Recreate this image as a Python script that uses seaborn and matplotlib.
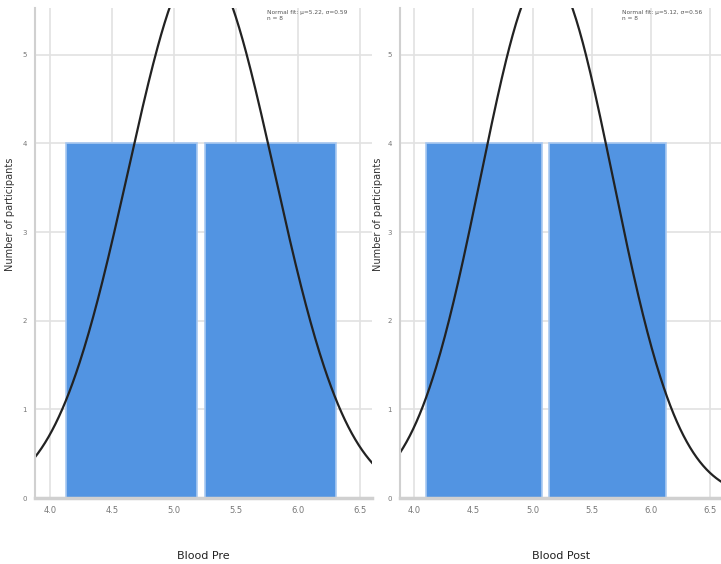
import numpy as np
import pandas as pd
import matplotlib as PlotLib
PlotLib.use('Agg')
import matplotlib.pyplot as PyPlot
import seaborn as sns

# histogram bins and counts
pre_edges = [4.095, 5.2175, 6.34]
pre_counts = [4, 4]
post_edges = [4.066, 5.112, 6.158]
post_counts = [4, 4]

# fitted normal curves
pre_mean, pre_sd = 5.22, 0.59
post_mean, post_sd = 5.12, 0.56

xticks = [4.0, 4.5, 5.0, 5.5, 6.0, 6.5]
yticks = [0, 1, 2, 3, 4, 5]
xlabels = ["Blood Pre", "Blood Post"]
ylabel = "Number of participants"

sns.set_theme(style="whitegrid")
PyPlot.rcParams['font.family'] = ['DejaVu Sans']

bar_color = '#5294e2'
fig = PyPlot.figure(figsize=(7.21, 5.64), dpi=100)
ax1 = fig.add_axes([0.0485, 0.117, 0.467, 0.869])
ax2 = fig.add_axes([0.555, 0.117, 0.445, 0.869])

panels = [(ax1, pre_edges, pre_counts, pre_mean, pre_sd, xlabels[0]),
          (ax2, post_edges, post_counts, post_mean, post_sd, xlabels[1])]

for ax, edges, counts, mu, sd, xl in panels:
    edges = np.array(edges)
    centers = (edges[:-1] + edges[1:]) / 2
    width = edges[1] - edges[0]
    df = pd.DataFrame({"x": centers, "n": counts})
    sns.histplot(data=df, x="x", weights="n", bins=list(edges), shrink=0.94,
                 color=bar_color, alpha=1.0, edgecolor='#a9c9f1',
                 linewidth=1.2, ax=ax)
    xs = np.linspace(3.85, 6.62, 300)
    ys = np.sum(counts) * width * np.exp(-(xs - mu) ** 2 / (2 * sd ** 2)) / (sd * np.sqrt(2 * np.pi))
    sns.lineplot(x=xs, y=ys, color='#222222', linewidth=1.6, ax=ax)
    ax.set_xlim(3.88, 6.595)
    ax.set_ylim(0, 5.53)
    ax.set_xticks(xticks)
    ax.set_yticks(yticks)
    ax.set_xticklabels([f"{v:.1f}" for v in xticks], fontsize=6, color='#777777')
    ax.set_yticklabels([str(v) for v in yticks], fontsize=5, color='#777777')
    ax.tick_params(axis='both', length=0, pad=6)
    ax.grid(True, color='#e2e2e2', linewidth=1.2)
    ax.set_axisbelow(True)
    ax.set_xlabel(xl, fontsize=8, color='#222222', labelpad=26)
    ax.set_ylabel(ylabel, fontsize=7, color='#333333')
    ax.yaxis.set_label_coords(-0.06 if ax is ax1 else -0.055, 0.578)
    for side in ['top', 'right']:
        ax.spines[side].set_visible(False)
    ax.spines['left'].set_color('#d0d0d0')
    ax.spines['left'].set_linewidth(1.5)
    ax.spines['bottom'].set_color('#d0d0d0')
    ax.spines['bottom'].set_linewidth(2.5)
    ax.text(0.69, 0.995, f"Normal fit: \u03bc={mu:.2f}, \u03c3={sd:.2f}\nn = {int(np.sum(counts))}",
            transform=ax.transAxes, fontsize=4.2, color='#555555', va='top', ha='left')

fig.savefig("out.png", dpi=100)
